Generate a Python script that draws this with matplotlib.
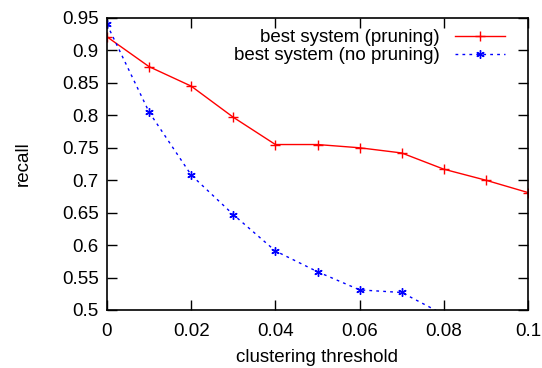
import numpy as np
import matplotlib.pyplot as plt

plt.rcParams['font.family'] = ['Liberation Sans', 'DejaVu Sans']

# clustering threshold vs recall
thresholds = [0.0, 0.01, 0.02, 0.03, 0.04, 0.05, 0.06, 0.07, 0.08, 0.09, 0.10]
recall_pruning = [0.921, 0.875, 0.845, 0.797, 0.755, 0.755, 0.750, 0.742, 0.717, 0.700, 0.681]
recall_no_pruning = [0.940, 0.805, 0.708, 0.647, 0.591, 0.559, 0.531, 0.527, 0.493]

fs = 13.5

fig = plt.figure(figsize=(5.42, 3.68), dpi=100)
ax = fig.add_axes([107 / 542, 1 - 310 / 368, (528 - 107) / 542, (310 - 18) / 368])

ax.plot(thresholds, recall_pruning, color='red', lw=1.0, marker='+',
        markersize=7, markeredgewidth=1.0, label='best system (pruning)')
ax.plot(thresholds[:len(recall_no_pruning)], recall_no_pruning, color='blue',
        lw=1.0, linestyle=(0, (2, 3)), marker=(6, 2, 0), markersize=6,
        markeredgewidth=1.0, label='best system (no pruning)')

ax.set_xlim(0, 0.1)
ax.set_ylim(0.5, 0.95)
ax.set_xticks([0, 0.02, 0.04, 0.06, 0.08, 0.1])
ax.set_xticklabels(['0', '0.02', '0.04', '0.06', '0.08', '0.1'])
yt = np.arange(0.5, 0.951, 0.05)
ax.set_yticks(yt)
ax.set_yticklabels(['0.5', '0.55', '0.6', '0.65', '0.7', '0.75', '0.8', '0.85', '0.9', '0.95'])
ax.tick_params(direction='in', length=7, width=1, labelsize=fs,
               top=True, right=True, pad=6)
ax.tick_params(axis='x', pad=9)
for s in ax.spines.values():
    s.set_linewidth(1.2)

ax.set_xlabel('clustering threshold', fontsize=fs, labelpad=7)
ax.set_ylabel('recall', fontsize=fs, labelpad=22)

ax.legend(loc='upper right', frameon=False, markerfirst=False, fontsize=fs,
          numpoints=1, handlelength=2.67, handletextpad=0.8,
          borderaxespad=0.0, borderpad=0.0, labelspacing=0.05,
          bbox_to_anchor=(1 - 23 / 421, 1 - 11 / 292))

fig.savefig('out.png', dpi=100)
